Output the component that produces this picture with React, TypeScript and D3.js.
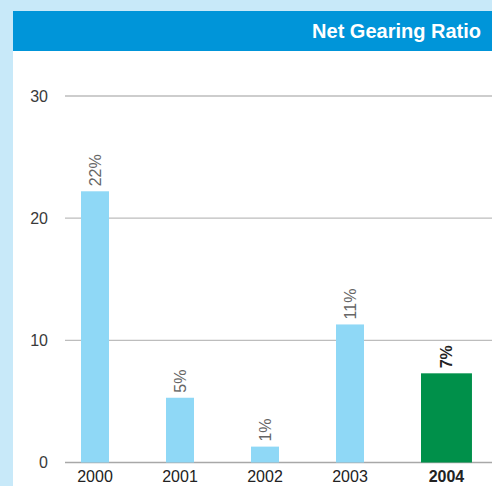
import React from "react";
import * as d3 from "d3";

const years = ["2000", "2001", "2002", "2003", "2004"];
const values = [22.2, 5.3, 1.3, 11.3, 7.3];
const valueLabels = ["22%", "5%", "1%", "11%", "7%"];
const highlightYear = "2004";
const yTicks = [0, 10, 20, 30];
const title = "Net Gearing Ratio";

const W = 492;
const H = 486;

export default function App() {
  const x = d3.scaleBand<string>().domain(years).range([81, 449]).paddingInner(0.6706).paddingOuter(0);
  const y = d3.scaleLinear().domain([0, 30]).range([462.5, 96]);
  const bw = x.bandwidth();
  const font = "'Liberation Sans', Arial, sans-serif";

  return (
    <svg width={W} height={H} style={{ position: "absolute", left: 0, top: 0 }} fontFamily={font}>
      <rect x={0} y={0} width={W} height={H} fill="#C8E9F9" />
      <rect x={13} y={51} width={W - 13} height={H - 51} fill="#FFFFFF" />
      <rect x={13} y={11} width={W - 13} height={40} fill="#0095D9" />
      <text x={481} y={38} textAnchor="end" fill="#FFFFFF" fontSize={20} fontWeight="bold">
        {title}
      </text>
      {yTicks.map((t) => (
        <g key={t}>
          <line x1={65} x2={W} y1={y(t)} y2={y(t)} stroke={t === 0 ? "#A8A8A8" : "#BDBDBD"} strokeWidth={1.3} />
          <text x={48} y={y(t)} dy="0.35em" textAnchor="end" fontSize={16} fill="#3a3a3a">
            {t}
          </text>
        </g>
      ))}
      {years.map((yr, i) => {
        const hi = yr === highlightYear;
        const w = hi ? bw * 1.82 : bw;
        const x0 = x(yr) as number;
        const cx = x0 + w / 2;
        const top = y(values[i]);
        return (
          <g key={yr}>
            <rect x={x0} y={top} width={w} height={y(0) - top} fill={hi ? "#00904A" : "#8FD8F6"} />
            <text
              transform={`translate(${cx},${top - 5}) rotate(-90)`}
              dy="0.35em"
              textAnchor="start"
              fontSize={16}
              fill={hi ? "#222" : "#666"}
              fontWeight={hi ? "bold" : "normal"}
            >
              {valueLabels[i]}
            </text>
            <text x={cx} y={482} textAnchor="middle" fontSize={16} fill="#222" fontWeight={hi ? "bold" : "normal"}>
              {yr}
            </text>
          </g>
        );
      })}
    </svg>
  );
}
